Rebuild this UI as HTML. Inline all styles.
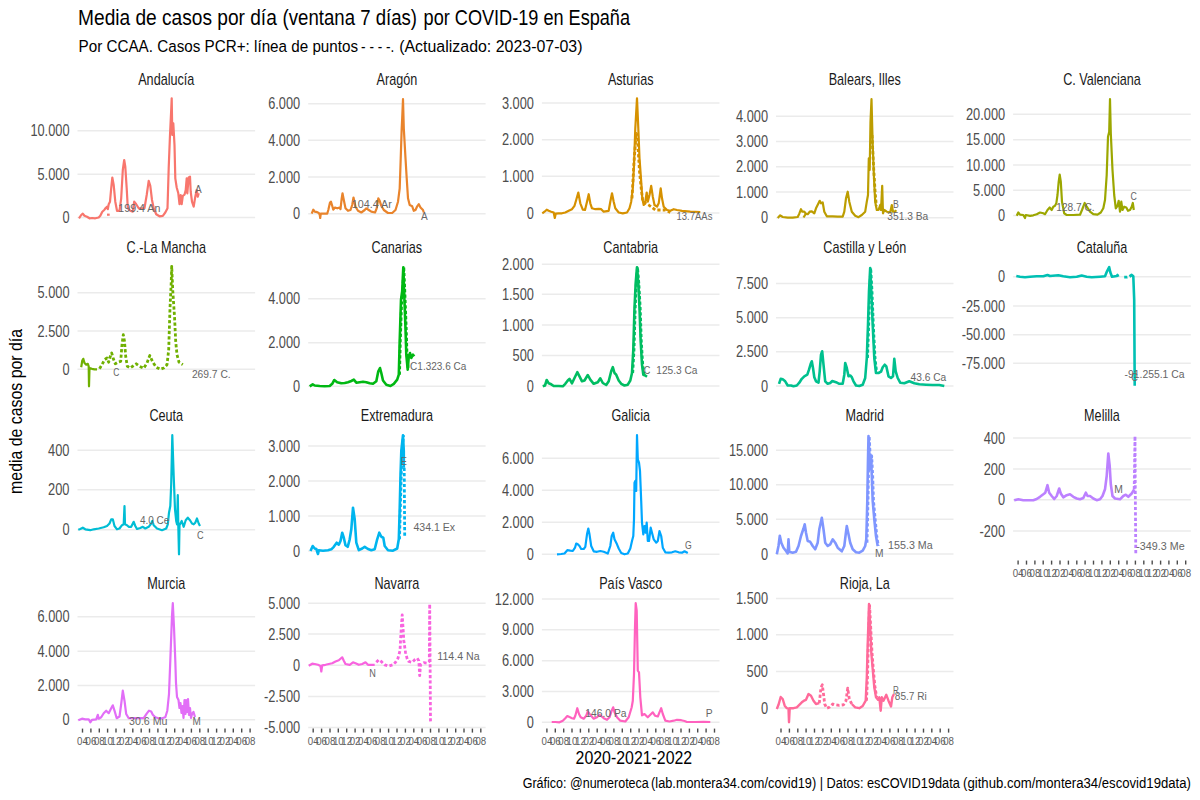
<!DOCTYPE html><html><head><meta charset="utf-8"><style>html,body{margin:0;padding:0;background:#fff;}svg{display:block;font-family:"Liberation Sans",sans-serif;}</style></head><body>
<svg width="1200" height="800" viewBox="0 0 1200 800">
<rect width="1200" height="800" fill="#fff"/>
<text x="78.1" y="24.7" font-size="22.8" fill="#000" textLength="198.7" lengthAdjust="spacingAndGlyphs">Media de casos por día</text>
<text x="282.6" y="24.7" font-size="22.8" fill="#000" textLength="134.4" lengthAdjust="spacingAndGlyphs">(ventana 7 días)</text>
<text x="423.6" y="24.7" font-size="22.8" fill="#000" textLength="206.4" lengthAdjust="spacingAndGlyphs">por COVID-19 en España</text>
<text x="78.6" y="52.3" font-size="17.2" fill="#000" textLength="279.5" lengthAdjust="spacingAndGlyphs">Por CCAA. Casos PCR+: línea de puntos</text>
<text x="361.1" y="52.3" font-size="17.2" fill="#000" textLength="33.2" lengthAdjust="spacingAndGlyphs">- - - -.</text>
<text x="399.2" y="52.3" font-size="17.2" fill="#000" textLength="183.3" lengthAdjust="spacingAndGlyphs">(Actualizado: 2023-07-03)</text>
<text x="0.0" y="0.0" font-size="19.2" fill="#000" text-anchor="middle" textLength="165.0" lengthAdjust="spacingAndGlyphs" transform="translate(22.2,411.4) rotate(-90)">media de casos por día</text>
<text x="633.9" y="764.2" font-size="18.4" fill="#000" text-anchor="middle" textLength="116.6" lengthAdjust="spacingAndGlyphs">2020-2021-2022</text>
<text x="522.7" y="788.2" font-size="15.2" fill="#000" textLength="126.1" lengthAdjust="spacingAndGlyphs">Gráfico: @numeroteca</text>
<text x="651.1" y="788.2" font-size="15.2" fill="#000" textLength="308.7" lengthAdjust="spacingAndGlyphs">(lab.montera34.com/covid19) | Datos: esCOVID19data</text>
<text x="963.1" y="788.2" font-size="15.2" fill="#000" textLength="227.8" lengthAdjust="spacingAndGlyphs">(github.com/montera34/escovid19data)</text>
<g stroke="#EBEBEB" stroke-width="1.5"><line x1="77.5" y1="130.75" x2="255.1" y2="130.75"/><line x1="77.5" y1="174.2" x2="255.1" y2="174.2"/><line x1="77.5" y1="217.6" x2="255.1" y2="217.6"/><line x1="308.2" y1="103.7" x2="485.6" y2="103.7"/><line x1="308.2" y1="140.3" x2="485.6" y2="140.3"/><line x1="308.2" y1="177.0" x2="485.6" y2="177.0"/><line x1="308.2" y1="213.8" x2="485.6" y2="213.8"/><line x1="541.9" y1="103.0" x2="719.5" y2="103.0"/><line x1="541.9" y1="139.7" x2="719.5" y2="139.7"/><line x1="541.9" y1="176.3" x2="719.5" y2="176.3"/><line x1="541.9" y1="213.0" x2="719.5" y2="213.0"/><line x1="776.0" y1="116.2" x2="953.5" y2="116.2"/><line x1="776.0" y1="141.5" x2="953.5" y2="141.5"/><line x1="776.0" y1="166.8" x2="953.5" y2="166.8"/><line x1="776.0" y1="192.0" x2="953.5" y2="192.0"/><line x1="776.0" y1="217.7" x2="953.5" y2="217.7"/><line x1="1013.1" y1="114.2" x2="1190.8" y2="114.2"/><line x1="1013.1" y1="139.7" x2="1190.8" y2="139.7"/><line x1="1013.1" y1="165.0" x2="1190.8" y2="165.0"/><line x1="1013.1" y1="190.3" x2="1190.8" y2="190.3"/><line x1="1013.1" y1="215.5" x2="1190.8" y2="215.5"/><line x1="77.5" y1="292.7" x2="255.1" y2="292.7"/><line x1="77.5" y1="331.0" x2="255.1" y2="331.0"/><line x1="77.5" y1="369.3" x2="255.1" y2="369.3"/><line x1="308.2" y1="298.8" x2="485.6" y2="298.8"/><line x1="308.2" y1="342.7" x2="485.6" y2="342.7"/><line x1="308.2" y1="386.3" x2="485.6" y2="386.3"/><line x1="541.9" y1="264.2" x2="719.5" y2="264.2"/><line x1="541.9" y1="294.3" x2="719.5" y2="294.3"/><line x1="541.9" y1="325.0" x2="719.5" y2="325.0"/><line x1="541.9" y1="355.5" x2="719.5" y2="355.5"/><line x1="541.9" y1="386.0" x2="719.5" y2="386.0"/><line x1="776.0" y1="283.5" x2="953.5" y2="283.5"/><line x1="776.0" y1="317.7" x2="953.5" y2="317.7"/><line x1="776.0" y1="351.8" x2="953.5" y2="351.8"/><line x1="776.0" y1="386.0" x2="953.5" y2="386.0"/><line x1="1013.1" y1="276.8" x2="1190.8" y2="276.8"/><line x1="1013.1" y1="306.0" x2="1190.8" y2="306.0"/><line x1="1013.1" y1="334.7" x2="1190.8" y2="334.7"/><line x1="1013.1" y1="363.3" x2="1190.8" y2="363.3"/><line x1="77.5" y1="450.2" x2="255.1" y2="450.2"/><line x1="77.5" y1="489.8" x2="255.1" y2="489.8"/><line x1="77.5" y1="529.7" x2="255.1" y2="529.7"/><line x1="308.2" y1="446.0" x2="485.6" y2="446.0"/><line x1="308.2" y1="481.0" x2="485.6" y2="481.0"/><line x1="308.2" y1="516.0" x2="485.6" y2="516.0"/><line x1="308.2" y1="551.0" x2="485.6" y2="551.0"/><line x1="541.9" y1="458.2" x2="719.5" y2="458.2"/><line x1="541.9" y1="490.2" x2="719.5" y2="490.2"/><line x1="541.9" y1="522.3" x2="719.5" y2="522.3"/><line x1="541.9" y1="554.3" x2="719.5" y2="554.3"/><line x1="776.0" y1="450.2" x2="953.5" y2="450.2"/><line x1="776.0" y1="484.7" x2="953.5" y2="484.7"/><line x1="776.0" y1="519.3" x2="953.5" y2="519.3"/><line x1="776.0" y1="554.0" x2="953.5" y2="554.0"/><line x1="1013.1" y1="438.0" x2="1190.8" y2="438.0"/><line x1="1013.1" y1="469.0" x2="1190.8" y2="469.0"/><line x1="1013.1" y1="499.8" x2="1190.8" y2="499.8"/><line x1="1013.1" y1="531.0" x2="1190.8" y2="531.0"/><line stroke="#4D4D4D" stroke-width="1.4" x1="1018.1" y1="560.6" x2="1018.1" y2="564.6"/><line stroke="#4D4D4D" stroke-width="1.4" x1="1026.5" y1="560.6" x2="1026.5" y2="564.6"/><line stroke="#4D4D4D" stroke-width="1.4" x1="1034.9" y1="560.6" x2="1034.9" y2="564.6"/><line stroke="#4D4D4D" stroke-width="1.4" x1="1043.2" y1="560.6" x2="1043.2" y2="564.6"/><line stroke="#4D4D4D" stroke-width="1.4" x1="1051.6" y1="560.6" x2="1051.6" y2="564.6"/><line stroke="#4D4D4D" stroke-width="1.4" x1="1060.0" y1="560.6" x2="1060.0" y2="564.6"/><line stroke="#4D4D4D" stroke-width="1.4" x1="1068.4" y1="560.6" x2="1068.4" y2="564.6"/><line stroke="#4D4D4D" stroke-width="1.4" x1="1076.8" y1="560.6" x2="1076.8" y2="564.6"/><line stroke="#4D4D4D" stroke-width="1.4" x1="1085.1" y1="560.6" x2="1085.1" y2="564.6"/><line stroke="#4D4D4D" stroke-width="1.4" x1="1093.5" y1="560.6" x2="1093.5" y2="564.6"/><line stroke="#4D4D4D" stroke-width="1.4" x1="1101.9" y1="560.6" x2="1101.9" y2="564.6"/><line stroke="#4D4D4D" stroke-width="1.4" x1="1110.3" y1="560.6" x2="1110.3" y2="564.6"/><line stroke="#4D4D4D" stroke-width="1.4" x1="1118.7" y1="560.6" x2="1118.7" y2="564.6"/><line stroke="#4D4D4D" stroke-width="1.4" x1="1127.0" y1="560.6" x2="1127.0" y2="564.6"/><line stroke="#4D4D4D" stroke-width="1.4" x1="1135.4" y1="560.6" x2="1135.4" y2="564.6"/><line stroke="#4D4D4D" stroke-width="1.4" x1="1143.8" y1="560.6" x2="1143.8" y2="564.6"/><line stroke="#4D4D4D" stroke-width="1.4" x1="1152.2" y1="560.6" x2="1152.2" y2="564.6"/><line stroke="#4D4D4D" stroke-width="1.4" x1="1160.6" y1="560.6" x2="1160.6" y2="564.6"/><line stroke="#4D4D4D" stroke-width="1.4" x1="1168.9" y1="560.6" x2="1168.9" y2="564.6"/><line stroke="#4D4D4D" stroke-width="1.4" x1="1177.3" y1="560.6" x2="1177.3" y2="564.6"/><line stroke="#4D4D4D" stroke-width="1.4" x1="1185.7" y1="560.6" x2="1185.7" y2="564.6"/><line x1="77.5" y1="616.8" x2="255.1" y2="616.8"/><line x1="77.5" y1="651.2" x2="255.1" y2="651.2"/><line x1="77.5" y1="685.5" x2="255.1" y2="685.5"/><line x1="77.5" y1="719.8" x2="255.1" y2="719.8"/><line stroke="#4D4D4D" stroke-width="1.4" x1="82.5" y1="728.6" x2="82.5" y2="732.6"/><line stroke="#4D4D4D" stroke-width="1.4" x1="90.9" y1="728.6" x2="90.9" y2="732.6"/><line stroke="#4D4D4D" stroke-width="1.4" x1="99.3" y1="728.6" x2="99.3" y2="732.6"/><line stroke="#4D4D4D" stroke-width="1.4" x1="107.6" y1="728.6" x2="107.6" y2="732.6"/><line stroke="#4D4D4D" stroke-width="1.4" x1="116.0" y1="728.6" x2="116.0" y2="732.6"/><line stroke="#4D4D4D" stroke-width="1.4" x1="124.4" y1="728.6" x2="124.4" y2="732.6"/><line stroke="#4D4D4D" stroke-width="1.4" x1="132.8" y1="728.6" x2="132.8" y2="732.6"/><line stroke="#4D4D4D" stroke-width="1.4" x1="141.2" y1="728.6" x2="141.2" y2="732.6"/><line stroke="#4D4D4D" stroke-width="1.4" x1="149.5" y1="728.6" x2="149.5" y2="732.6"/><line stroke="#4D4D4D" stroke-width="1.4" x1="157.9" y1="728.6" x2="157.9" y2="732.6"/><line stroke="#4D4D4D" stroke-width="1.4" x1="166.3" y1="728.6" x2="166.3" y2="732.6"/><line stroke="#4D4D4D" stroke-width="1.4" x1="174.7" y1="728.6" x2="174.7" y2="732.6"/><line stroke="#4D4D4D" stroke-width="1.4" x1="183.1" y1="728.6" x2="183.1" y2="732.6"/><line stroke="#4D4D4D" stroke-width="1.4" x1="191.4" y1="728.6" x2="191.4" y2="732.6"/><line stroke="#4D4D4D" stroke-width="1.4" x1="199.8" y1="728.6" x2="199.8" y2="732.6"/><line stroke="#4D4D4D" stroke-width="1.4" x1="208.2" y1="728.6" x2="208.2" y2="732.6"/><line stroke="#4D4D4D" stroke-width="1.4" x1="216.6" y1="728.6" x2="216.6" y2="732.6"/><line stroke="#4D4D4D" stroke-width="1.4" x1="225.0" y1="728.6" x2="225.0" y2="732.6"/><line stroke="#4D4D4D" stroke-width="1.4" x1="233.3" y1="728.6" x2="233.3" y2="732.6"/><line stroke="#4D4D4D" stroke-width="1.4" x1="241.7" y1="728.6" x2="241.7" y2="732.6"/><line stroke="#4D4D4D" stroke-width="1.4" x1="250.1" y1="728.6" x2="250.1" y2="732.6"/><line x1="308.2" y1="603.2" x2="485.6" y2="603.2"/><line x1="308.2" y1="634.0" x2="485.6" y2="634.0"/><line x1="308.2" y1="665.3" x2="485.6" y2="665.3"/><line x1="308.2" y1="696.5" x2="485.6" y2="696.5"/><line x1="308.2" y1="727.4" x2="485.6" y2="727.4"/><line stroke="#4D4D4D" stroke-width="1.4" x1="313.2" y1="728.6" x2="313.2" y2="732.6"/><line stroke="#4D4D4D" stroke-width="1.4" x1="321.6" y1="728.6" x2="321.6" y2="732.6"/><line stroke="#4D4D4D" stroke-width="1.4" x1="330.0" y1="728.6" x2="330.0" y2="732.6"/><line stroke="#4D4D4D" stroke-width="1.4" x1="338.3" y1="728.6" x2="338.3" y2="732.6"/><line stroke="#4D4D4D" stroke-width="1.4" x1="346.7" y1="728.6" x2="346.7" y2="732.6"/><line stroke="#4D4D4D" stroke-width="1.4" x1="355.1" y1="728.6" x2="355.1" y2="732.6"/><line stroke="#4D4D4D" stroke-width="1.4" x1="363.5" y1="728.6" x2="363.5" y2="732.6"/><line stroke="#4D4D4D" stroke-width="1.4" x1="371.9" y1="728.6" x2="371.9" y2="732.6"/><line stroke="#4D4D4D" stroke-width="1.4" x1="380.2" y1="728.6" x2="380.2" y2="732.6"/><line stroke="#4D4D4D" stroke-width="1.4" x1="388.6" y1="728.6" x2="388.6" y2="732.6"/><line stroke="#4D4D4D" stroke-width="1.4" x1="397.0" y1="728.6" x2="397.0" y2="732.6"/><line stroke="#4D4D4D" stroke-width="1.4" x1="405.4" y1="728.6" x2="405.4" y2="732.6"/><line stroke="#4D4D4D" stroke-width="1.4" x1="413.8" y1="728.6" x2="413.8" y2="732.6"/><line stroke="#4D4D4D" stroke-width="1.4" x1="422.1" y1="728.6" x2="422.1" y2="732.6"/><line stroke="#4D4D4D" stroke-width="1.4" x1="430.5" y1="728.6" x2="430.5" y2="732.6"/><line stroke="#4D4D4D" stroke-width="1.4" x1="438.9" y1="728.6" x2="438.9" y2="732.6"/><line stroke="#4D4D4D" stroke-width="1.4" x1="447.3" y1="728.6" x2="447.3" y2="732.6"/><line stroke="#4D4D4D" stroke-width="1.4" x1="455.7" y1="728.6" x2="455.7" y2="732.6"/><line stroke="#4D4D4D" stroke-width="1.4" x1="464.0" y1="728.6" x2="464.0" y2="732.6"/><line stroke="#4D4D4D" stroke-width="1.4" x1="472.4" y1="728.6" x2="472.4" y2="732.6"/><line stroke="#4D4D4D" stroke-width="1.4" x1="480.8" y1="728.6" x2="480.8" y2="732.6"/><line x1="541.9" y1="599.0" x2="719.5" y2="599.0"/><line x1="541.9" y1="629.8" x2="719.5" y2="629.8"/><line x1="541.9" y1="660.7" x2="719.5" y2="660.7"/><line x1="541.9" y1="691.5" x2="719.5" y2="691.5"/><line x1="541.9" y1="722.3" x2="719.5" y2="722.3"/><line stroke="#4D4D4D" stroke-width="1.4" x1="546.9" y1="728.6" x2="546.9" y2="732.6"/><line stroke="#4D4D4D" stroke-width="1.4" x1="555.3" y1="728.6" x2="555.3" y2="732.6"/><line stroke="#4D4D4D" stroke-width="1.4" x1="563.7" y1="728.6" x2="563.7" y2="732.6"/><line stroke="#4D4D4D" stroke-width="1.4" x1="572.0" y1="728.6" x2="572.0" y2="732.6"/><line stroke="#4D4D4D" stroke-width="1.4" x1="580.4" y1="728.6" x2="580.4" y2="732.6"/><line stroke="#4D4D4D" stroke-width="1.4" x1="588.8" y1="728.6" x2="588.8" y2="732.6"/><line stroke="#4D4D4D" stroke-width="1.4" x1="597.2" y1="728.6" x2="597.2" y2="732.6"/><line stroke="#4D4D4D" stroke-width="1.4" x1="605.6" y1="728.6" x2="605.6" y2="732.6"/><line stroke="#4D4D4D" stroke-width="1.4" x1="613.9" y1="728.6" x2="613.9" y2="732.6"/><line stroke="#4D4D4D" stroke-width="1.4" x1="622.3" y1="728.6" x2="622.3" y2="732.6"/><line stroke="#4D4D4D" stroke-width="1.4" x1="630.7" y1="728.6" x2="630.7" y2="732.6"/><line stroke="#4D4D4D" stroke-width="1.4" x1="639.1" y1="728.6" x2="639.1" y2="732.6"/><line stroke="#4D4D4D" stroke-width="1.4" x1="647.5" y1="728.6" x2="647.5" y2="732.6"/><line stroke="#4D4D4D" stroke-width="1.4" x1="655.8" y1="728.6" x2="655.8" y2="732.6"/><line stroke="#4D4D4D" stroke-width="1.4" x1="664.2" y1="728.6" x2="664.2" y2="732.6"/><line stroke="#4D4D4D" stroke-width="1.4" x1="672.6" y1="728.6" x2="672.6" y2="732.6"/><line stroke="#4D4D4D" stroke-width="1.4" x1="681.0" y1="728.6" x2="681.0" y2="732.6"/><line stroke="#4D4D4D" stroke-width="1.4" x1="689.4" y1="728.6" x2="689.4" y2="732.6"/><line stroke="#4D4D4D" stroke-width="1.4" x1="697.7" y1="728.6" x2="697.7" y2="732.6"/><line stroke="#4D4D4D" stroke-width="1.4" x1="706.1" y1="728.6" x2="706.1" y2="732.6"/><line stroke="#4D4D4D" stroke-width="1.4" x1="714.5" y1="728.6" x2="714.5" y2="732.6"/><line x1="776.0" y1="598.5" x2="953.5" y2="598.5"/><line x1="776.0" y1="634.8" x2="953.5" y2="634.8"/><line x1="776.0" y1="671.5" x2="953.5" y2="671.5"/><line x1="776.0" y1="708.0" x2="953.5" y2="708.0"/><line stroke="#4D4D4D" stroke-width="1.4" x1="781.0" y1="728.6" x2="781.0" y2="732.6"/><line stroke="#4D4D4D" stroke-width="1.4" x1="789.4" y1="728.6" x2="789.4" y2="732.6"/><line stroke="#4D4D4D" stroke-width="1.4" x1="797.8" y1="728.6" x2="797.8" y2="732.6"/><line stroke="#4D4D4D" stroke-width="1.4" x1="806.1" y1="728.6" x2="806.1" y2="732.6"/><line stroke="#4D4D4D" stroke-width="1.4" x1="814.5" y1="728.6" x2="814.5" y2="732.6"/><line stroke="#4D4D4D" stroke-width="1.4" x1="822.9" y1="728.6" x2="822.9" y2="732.6"/><line stroke="#4D4D4D" stroke-width="1.4" x1="831.3" y1="728.6" x2="831.3" y2="732.6"/><line stroke="#4D4D4D" stroke-width="1.4" x1="839.7" y1="728.6" x2="839.7" y2="732.6"/><line stroke="#4D4D4D" stroke-width="1.4" x1="848.0" y1="728.6" x2="848.0" y2="732.6"/><line stroke="#4D4D4D" stroke-width="1.4" x1="856.4" y1="728.6" x2="856.4" y2="732.6"/><line stroke="#4D4D4D" stroke-width="1.4" x1="864.8" y1="728.6" x2="864.8" y2="732.6"/><line stroke="#4D4D4D" stroke-width="1.4" x1="873.2" y1="728.6" x2="873.2" y2="732.6"/><line stroke="#4D4D4D" stroke-width="1.4" x1="881.6" y1="728.6" x2="881.6" y2="732.6"/><line stroke="#4D4D4D" stroke-width="1.4" x1="889.9" y1="728.6" x2="889.9" y2="732.6"/><line stroke="#4D4D4D" stroke-width="1.4" x1="898.3" y1="728.6" x2="898.3" y2="732.6"/><line stroke="#4D4D4D" stroke-width="1.4" x1="906.7" y1="728.6" x2="906.7" y2="732.6"/><line stroke="#4D4D4D" stroke-width="1.4" x1="915.1" y1="728.6" x2="915.1" y2="732.6"/><line stroke="#4D4D4D" stroke-width="1.4" x1="923.5" y1="728.6" x2="923.5" y2="732.6"/><line stroke="#4D4D4D" stroke-width="1.4" x1="931.8" y1="728.6" x2="931.8" y2="732.6"/><line stroke="#4D4D4D" stroke-width="1.4" x1="940.2" y1="728.6" x2="940.2" y2="732.6"/><line stroke="#4D4D4D" stroke-width="1.4" x1="948.6" y1="728.6" x2="948.6" y2="732.6"/></g>
<text x="69.5" y="136.2" font-size="16.0" fill="#4D4D4D" text-anchor="end" textLength="39.1" lengthAdjust="spacingAndGlyphs">10.000</text>
<text x="69.5" y="179.7" font-size="16.0" fill="#4D4D4D" text-anchor="end" textLength="32.0" lengthAdjust="spacingAndGlyphs">5.000</text>
<text x="69.5" y="223.1" font-size="16.0" fill="#4D4D4D" text-anchor="end" textLength="7.1" lengthAdjust="spacingAndGlyphs">0</text>
<text x="166.3" y="84.8" font-size="16.2" fill="#1A1A1A" text-anchor="middle" textLength="56.2" lengthAdjust="spacingAndGlyphs">Andalucía</text>
<text x="300.2" y="109.2" font-size="16.0" fill="#4D4D4D" text-anchor="end" textLength="32.0" lengthAdjust="spacingAndGlyphs">6.000</text>
<text x="300.2" y="145.8" font-size="16.0" fill="#4D4D4D" text-anchor="end" textLength="32.0" lengthAdjust="spacingAndGlyphs">4.000</text>
<text x="300.2" y="182.5" font-size="16.0" fill="#4D4D4D" text-anchor="end" textLength="32.0" lengthAdjust="spacingAndGlyphs">2.000</text>
<text x="300.2" y="219.3" font-size="16.0" fill="#4D4D4D" text-anchor="end" textLength="7.1" lengthAdjust="spacingAndGlyphs">0</text>
<text x="396.9" y="84.8" font-size="16.2" fill="#1A1A1A" text-anchor="middle" textLength="40.7" lengthAdjust="spacingAndGlyphs">Aragón</text>
<text x="533.9" y="108.5" font-size="16.0" fill="#4D4D4D" text-anchor="end" textLength="32.0" lengthAdjust="spacingAndGlyphs">3.000</text>
<text x="533.9" y="145.2" font-size="16.0" fill="#4D4D4D" text-anchor="end" textLength="32.0" lengthAdjust="spacingAndGlyphs">2.000</text>
<text x="533.9" y="181.8" font-size="16.0" fill="#4D4D4D" text-anchor="end" textLength="32.0" lengthAdjust="spacingAndGlyphs">1.000</text>
<text x="533.9" y="218.5" font-size="16.0" fill="#4D4D4D" text-anchor="end" textLength="7.1" lengthAdjust="spacingAndGlyphs">0</text>
<text x="630.7" y="84.8" font-size="16.2" fill="#1A1A1A" text-anchor="middle" textLength="45.6" lengthAdjust="spacingAndGlyphs">Asturias</text>
<text x="768.0" y="121.7" font-size="16.0" fill="#4D4D4D" text-anchor="end" textLength="32.0" lengthAdjust="spacingAndGlyphs">4.000</text>
<text x="768.0" y="147.0" font-size="16.0" fill="#4D4D4D" text-anchor="end" textLength="32.0" lengthAdjust="spacingAndGlyphs">3.000</text>
<text x="768.0" y="172.3" font-size="16.0" fill="#4D4D4D" text-anchor="end" textLength="32.0" lengthAdjust="spacingAndGlyphs">2.000</text>
<text x="768.0" y="197.5" font-size="16.0" fill="#4D4D4D" text-anchor="end" textLength="32.0" lengthAdjust="spacingAndGlyphs">1.000</text>
<text x="768.0" y="223.2" font-size="16.0" fill="#4D4D4D" text-anchor="end" textLength="7.1" lengthAdjust="spacingAndGlyphs">0</text>
<text x="864.8" y="84.8" font-size="16.2" fill="#1A1A1A" text-anchor="middle" textLength="72.3" lengthAdjust="spacingAndGlyphs">Balears, Illes</text>
<text x="1005.1" y="119.7" font-size="16.0" fill="#4D4D4D" text-anchor="end" textLength="39.1" lengthAdjust="spacingAndGlyphs">20.000</text>
<text x="1005.1" y="145.2" font-size="16.0" fill="#4D4D4D" text-anchor="end" textLength="39.1" lengthAdjust="spacingAndGlyphs">15.000</text>
<text x="1005.1" y="170.5" font-size="16.0" fill="#4D4D4D" text-anchor="end" textLength="39.1" lengthAdjust="spacingAndGlyphs">10.000</text>
<text x="1005.1" y="195.8" font-size="16.0" fill="#4D4D4D" text-anchor="end" textLength="32.0" lengthAdjust="spacingAndGlyphs">5.000</text>
<text x="1005.1" y="221.0" font-size="16.0" fill="#4D4D4D" text-anchor="end" textLength="7.1" lengthAdjust="spacingAndGlyphs">0</text>
<text x="1102.0" y="84.8" font-size="16.2" fill="#1A1A1A" text-anchor="middle" textLength="77.7" lengthAdjust="spacingAndGlyphs">C. Valenciana</text>
<text x="69.5" y="298.2" font-size="16.0" fill="#4D4D4D" text-anchor="end" textLength="32.0" lengthAdjust="spacingAndGlyphs">5.000</text>
<text x="69.5" y="336.5" font-size="16.0" fill="#4D4D4D" text-anchor="end" textLength="32.0" lengthAdjust="spacingAndGlyphs">2.500</text>
<text x="69.5" y="374.8" font-size="16.0" fill="#4D4D4D" text-anchor="end" textLength="7.1" lengthAdjust="spacingAndGlyphs">0</text>
<text x="166.3" y="252.6" font-size="16.2" fill="#1A1A1A" text-anchor="middle" textLength="79.4" lengthAdjust="spacingAndGlyphs">C.-La Mancha</text>
<text x="300.2" y="304.3" font-size="16.0" fill="#4D4D4D" text-anchor="end" textLength="32.0" lengthAdjust="spacingAndGlyphs">4.000</text>
<text x="300.2" y="348.2" font-size="16.0" fill="#4D4D4D" text-anchor="end" textLength="32.0" lengthAdjust="spacingAndGlyphs">2.000</text>
<text x="300.2" y="391.8" font-size="16.0" fill="#4D4D4D" text-anchor="end" textLength="7.1" lengthAdjust="spacingAndGlyphs">0</text>
<text x="396.9" y="252.6" font-size="16.2" fill="#1A1A1A" text-anchor="middle" textLength="50.6" lengthAdjust="spacingAndGlyphs">Canarias</text>
<text x="533.9" y="269.7" font-size="16.0" fill="#4D4D4D" text-anchor="end" textLength="32.0" lengthAdjust="spacingAndGlyphs">2.000</text>
<text x="533.9" y="299.8" font-size="16.0" fill="#4D4D4D" text-anchor="end" textLength="32.0" lengthAdjust="spacingAndGlyphs">1.500</text>
<text x="533.9" y="330.5" font-size="16.0" fill="#4D4D4D" text-anchor="end" textLength="32.0" lengthAdjust="spacingAndGlyphs">1.000</text>
<text x="533.9" y="361.0" font-size="16.0" fill="#4D4D4D" text-anchor="end" textLength="21.4" lengthAdjust="spacingAndGlyphs">500</text>
<text x="533.9" y="391.5" font-size="16.0" fill="#4D4D4D" text-anchor="end" textLength="7.1" lengthAdjust="spacingAndGlyphs">0</text>
<text x="630.7" y="252.6" font-size="16.2" fill="#1A1A1A" text-anchor="middle" textLength="54.8" lengthAdjust="spacingAndGlyphs">Cantabria</text>
<text x="768.0" y="289.0" font-size="16.0" fill="#4D4D4D" text-anchor="end" textLength="32.0" lengthAdjust="spacingAndGlyphs">7.500</text>
<text x="768.0" y="323.2" font-size="16.0" fill="#4D4D4D" text-anchor="end" textLength="32.0" lengthAdjust="spacingAndGlyphs">5.000</text>
<text x="768.0" y="357.3" font-size="16.0" fill="#4D4D4D" text-anchor="end" textLength="32.0" lengthAdjust="spacingAndGlyphs">2.500</text>
<text x="768.0" y="391.5" font-size="16.0" fill="#4D4D4D" text-anchor="end" textLength="7.1" lengthAdjust="spacingAndGlyphs">0</text>
<text x="864.8" y="252.6" font-size="16.2" fill="#1A1A1A" text-anchor="middle" textLength="82.9" lengthAdjust="spacingAndGlyphs">Castilla y León</text>
<text x="1005.1" y="282.3" font-size="16.0" fill="#4D4D4D" text-anchor="end" textLength="7.1" lengthAdjust="spacingAndGlyphs">0</text>
<text x="1005.1" y="311.5" font-size="16.0" fill="#4D4D4D" text-anchor="end" textLength="43.4" lengthAdjust="spacingAndGlyphs">-25.000</text>
<text x="1005.1" y="340.2" font-size="16.0" fill="#4D4D4D" text-anchor="end" textLength="43.4" lengthAdjust="spacingAndGlyphs">-50.000</text>
<text x="1005.1" y="368.8" font-size="16.0" fill="#4D4D4D" text-anchor="end" textLength="43.4" lengthAdjust="spacingAndGlyphs">-75.000</text>
<text x="1102.0" y="252.6" font-size="16.2" fill="#1A1A1A" text-anchor="middle" textLength="50.6" lengthAdjust="spacingAndGlyphs">Cataluña</text>
<text x="69.5" y="455.7" font-size="16.0" fill="#4D4D4D" text-anchor="end" textLength="21.4" lengthAdjust="spacingAndGlyphs">400</text>
<text x="69.5" y="495.3" font-size="16.0" fill="#4D4D4D" text-anchor="end" textLength="21.4" lengthAdjust="spacingAndGlyphs">200</text>
<text x="69.5" y="535.2" font-size="16.0" fill="#4D4D4D" text-anchor="end" textLength="7.1" lengthAdjust="spacingAndGlyphs">0</text>
<text x="166.3" y="420.6" font-size="16.2" fill="#1A1A1A" text-anchor="middle" textLength="33.7" lengthAdjust="spacingAndGlyphs">Ceuta</text>
<text x="300.2" y="451.5" font-size="16.0" fill="#4D4D4D" text-anchor="end" textLength="32.0" lengthAdjust="spacingAndGlyphs">3.000</text>
<text x="300.2" y="486.5" font-size="16.0" fill="#4D4D4D" text-anchor="end" textLength="32.0" lengthAdjust="spacingAndGlyphs">2.000</text>
<text x="300.2" y="521.5" font-size="16.0" fill="#4D4D4D" text-anchor="end" textLength="32.0" lengthAdjust="spacingAndGlyphs">1.000</text>
<text x="300.2" y="556.5" font-size="16.0" fill="#4D4D4D" text-anchor="end" textLength="7.1" lengthAdjust="spacingAndGlyphs">0</text>
<text x="396.9" y="420.6" font-size="16.2" fill="#1A1A1A" text-anchor="middle" textLength="72.3" lengthAdjust="spacingAndGlyphs">Extremadura</text>
<text x="533.9" y="463.7" font-size="16.0" fill="#4D4D4D" text-anchor="end" textLength="32.0" lengthAdjust="spacingAndGlyphs">6.000</text>
<text x="533.9" y="495.7" font-size="16.0" fill="#4D4D4D" text-anchor="end" textLength="32.0" lengthAdjust="spacingAndGlyphs">4.000</text>
<text x="533.9" y="527.8" font-size="16.0" fill="#4D4D4D" text-anchor="end" textLength="32.0" lengthAdjust="spacingAndGlyphs">2.000</text>
<text x="533.9" y="559.8" font-size="16.0" fill="#4D4D4D" text-anchor="end" textLength="7.1" lengthAdjust="spacingAndGlyphs">0</text>
<text x="630.7" y="420.6" font-size="16.2" fill="#1A1A1A" text-anchor="middle" textLength="38.6" lengthAdjust="spacingAndGlyphs">Galicia</text>
<text x="768.0" y="455.7" font-size="16.0" fill="#4D4D4D" text-anchor="end" textLength="39.1" lengthAdjust="spacingAndGlyphs">15.000</text>
<text x="768.0" y="490.2" font-size="16.0" fill="#4D4D4D" text-anchor="end" textLength="39.1" lengthAdjust="spacingAndGlyphs">10.000</text>
<text x="768.0" y="524.8" font-size="16.0" fill="#4D4D4D" text-anchor="end" textLength="32.0" lengthAdjust="spacingAndGlyphs">5.000</text>
<text x="768.0" y="559.5" font-size="16.0" fill="#4D4D4D" text-anchor="end" textLength="7.1" lengthAdjust="spacingAndGlyphs">0</text>
<text x="864.8" y="420.6" font-size="16.2" fill="#1A1A1A" text-anchor="middle" textLength="38.6" lengthAdjust="spacingAndGlyphs">Madrid</text>
<text x="1005.1" y="443.5" font-size="16.0" fill="#4D4D4D" text-anchor="end" textLength="21.4" lengthAdjust="spacingAndGlyphs">400</text>
<text x="1005.1" y="474.5" font-size="16.0" fill="#4D4D4D" text-anchor="end" textLength="21.4" lengthAdjust="spacingAndGlyphs">200</text>
<text x="1005.1" y="505.3" font-size="16.0" fill="#4D4D4D" text-anchor="end" textLength="7.1" lengthAdjust="spacingAndGlyphs">0</text>
<text x="1005.1" y="536.5" font-size="16.0" fill="#4D4D4D" text-anchor="end" textLength="25.6" lengthAdjust="spacingAndGlyphs">-200</text>
<text x="1102.0" y="420.6" font-size="16.2" fill="#1A1A1A" text-anchor="middle" textLength="35.8" lengthAdjust="spacingAndGlyphs">Melilla</text>
<text x="1018.1" y="576.7" font-size="11.2" fill="#5E5E5E" text-anchor="middle" textLength="10.8" lengthAdjust="spacingAndGlyphs">04</text>
<text x="1026.5" y="576.7" font-size="11.2" fill="#5E5E5E" text-anchor="middle" textLength="10.8" lengthAdjust="spacingAndGlyphs">06</text>
<text x="1034.9" y="576.7" font-size="11.2" fill="#5E5E5E" text-anchor="middle" textLength="10.8" lengthAdjust="spacingAndGlyphs">08</text>
<text x="1043.2" y="576.7" font-size="11.2" fill="#5E5E5E" text-anchor="middle" textLength="10.8" lengthAdjust="spacingAndGlyphs">10</text>
<text x="1051.6" y="576.7" font-size="11.2" fill="#5E5E5E" text-anchor="middle" textLength="10.8" lengthAdjust="spacingAndGlyphs">12</text>
<text x="1060.0" y="576.7" font-size="11.2" fill="#5E5E5E" text-anchor="middle" textLength="10.8" lengthAdjust="spacingAndGlyphs">02</text>
<text x="1068.4" y="576.7" font-size="11.2" fill="#5E5E5E" text-anchor="middle" textLength="10.8" lengthAdjust="spacingAndGlyphs">04</text>
<text x="1076.8" y="576.7" font-size="11.2" fill="#5E5E5E" text-anchor="middle" textLength="10.8" lengthAdjust="spacingAndGlyphs">06</text>
<text x="1085.1" y="576.7" font-size="11.2" fill="#5E5E5E" text-anchor="middle" textLength="10.8" lengthAdjust="spacingAndGlyphs">08</text>
<text x="1093.5" y="576.7" font-size="11.2" fill="#5E5E5E" text-anchor="middle" textLength="10.8" lengthAdjust="spacingAndGlyphs">10</text>
<text x="1101.9" y="576.7" font-size="11.2" fill="#5E5E5E" text-anchor="middle" textLength="10.8" lengthAdjust="spacingAndGlyphs">12</text>
<text x="1110.3" y="576.7" font-size="11.2" fill="#5E5E5E" text-anchor="middle" textLength="10.8" lengthAdjust="spacingAndGlyphs">02</text>
<text x="1118.7" y="576.7" font-size="11.2" fill="#5E5E5E" text-anchor="middle" textLength="10.8" lengthAdjust="spacingAndGlyphs">04</text>
<text x="1127.0" y="576.7" font-size="11.2" fill="#5E5E5E" text-anchor="middle" textLength="10.8" lengthAdjust="spacingAndGlyphs">06</text>
<text x="1135.4" y="576.7" font-size="11.2" fill="#5E5E5E" text-anchor="middle" textLength="10.8" lengthAdjust="spacingAndGlyphs">08</text>
<text x="1143.8" y="576.7" font-size="11.2" fill="#5E5E5E" text-anchor="middle" textLength="10.8" lengthAdjust="spacingAndGlyphs">10</text>
<text x="1152.2" y="576.7" font-size="11.2" fill="#5E5E5E" text-anchor="middle" textLength="10.8" lengthAdjust="spacingAndGlyphs">12</text>
<text x="1160.6" y="576.7" font-size="11.2" fill="#5E5E5E" text-anchor="middle" textLength="10.8" lengthAdjust="spacingAndGlyphs">02</text>
<text x="1168.9" y="576.7" font-size="11.2" fill="#5E5E5E" text-anchor="middle" textLength="10.8" lengthAdjust="spacingAndGlyphs">04</text>
<text x="1177.3" y="576.7" font-size="11.2" fill="#5E5E5E" text-anchor="middle" textLength="10.8" lengthAdjust="spacingAndGlyphs">06</text>
<text x="1185.7" y="576.7" font-size="11.2" fill="#5E5E5E" text-anchor="middle" textLength="10.8" lengthAdjust="spacingAndGlyphs">08</text>
<text x="69.5" y="622.3" font-size="16.0" fill="#4D4D4D" text-anchor="end" textLength="32.0" lengthAdjust="spacingAndGlyphs">6.000</text>
<text x="69.5" y="656.7" font-size="16.0" fill="#4D4D4D" text-anchor="end" textLength="32.0" lengthAdjust="spacingAndGlyphs">4.000</text>
<text x="69.5" y="691.0" font-size="16.0" fill="#4D4D4D" text-anchor="end" textLength="32.0" lengthAdjust="spacingAndGlyphs">2.000</text>
<text x="69.5" y="725.3" font-size="16.0" fill="#4D4D4D" text-anchor="end" textLength="7.1" lengthAdjust="spacingAndGlyphs">0</text>
<text x="166.3" y="588.6" font-size="16.2" fill="#1A1A1A" text-anchor="middle" textLength="37.9" lengthAdjust="spacingAndGlyphs">Murcia</text>
<text x="82.5" y="744.7" font-size="11.2" fill="#5E5E5E" text-anchor="middle" textLength="10.8" lengthAdjust="spacingAndGlyphs">04</text>
<text x="90.9" y="744.7" font-size="11.2" fill="#5E5E5E" text-anchor="middle" textLength="10.8" lengthAdjust="spacingAndGlyphs">06</text>
<text x="99.3" y="744.7" font-size="11.2" fill="#5E5E5E" text-anchor="middle" textLength="10.8" lengthAdjust="spacingAndGlyphs">08</text>
<text x="107.6" y="744.7" font-size="11.2" fill="#5E5E5E" text-anchor="middle" textLength="10.8" lengthAdjust="spacingAndGlyphs">10</text>
<text x="116.0" y="744.7" font-size="11.2" fill="#5E5E5E" text-anchor="middle" textLength="10.8" lengthAdjust="spacingAndGlyphs">12</text>
<text x="124.4" y="744.7" font-size="11.2" fill="#5E5E5E" text-anchor="middle" textLength="10.8" lengthAdjust="spacingAndGlyphs">02</text>
<text x="132.8" y="744.7" font-size="11.2" fill="#5E5E5E" text-anchor="middle" textLength="10.8" lengthAdjust="spacingAndGlyphs">04</text>
<text x="141.2" y="744.7" font-size="11.2" fill="#5E5E5E" text-anchor="middle" textLength="10.8" lengthAdjust="spacingAndGlyphs">06</text>
<text x="149.5" y="744.7" font-size="11.2" fill="#5E5E5E" text-anchor="middle" textLength="10.8" lengthAdjust="spacingAndGlyphs">08</text>
<text x="157.9" y="744.7" font-size="11.2" fill="#5E5E5E" text-anchor="middle" textLength="10.8" lengthAdjust="spacingAndGlyphs">10</text>
<text x="166.3" y="744.7" font-size="11.2" fill="#5E5E5E" text-anchor="middle" textLength="10.8" lengthAdjust="spacingAndGlyphs">12</text>
<text x="174.7" y="744.7" font-size="11.2" fill="#5E5E5E" text-anchor="middle" textLength="10.8" lengthAdjust="spacingAndGlyphs">02</text>
<text x="183.1" y="744.7" font-size="11.2" fill="#5E5E5E" text-anchor="middle" textLength="10.8" lengthAdjust="spacingAndGlyphs">04</text>
<text x="191.4" y="744.7" font-size="11.2" fill="#5E5E5E" text-anchor="middle" textLength="10.8" lengthAdjust="spacingAndGlyphs">06</text>
<text x="199.8" y="744.7" font-size="11.2" fill="#5E5E5E" text-anchor="middle" textLength="10.8" lengthAdjust="spacingAndGlyphs">08</text>
<text x="208.2" y="744.7" font-size="11.2" fill="#5E5E5E" text-anchor="middle" textLength="10.8" lengthAdjust="spacingAndGlyphs">10</text>
<text x="216.6" y="744.7" font-size="11.2" fill="#5E5E5E" text-anchor="middle" textLength="10.8" lengthAdjust="spacingAndGlyphs">12</text>
<text x="225.0" y="744.7" font-size="11.2" fill="#5E5E5E" text-anchor="middle" textLength="10.8" lengthAdjust="spacingAndGlyphs">02</text>
<text x="233.3" y="744.7" font-size="11.2" fill="#5E5E5E" text-anchor="middle" textLength="10.8" lengthAdjust="spacingAndGlyphs">04</text>
<text x="241.7" y="744.7" font-size="11.2" fill="#5E5E5E" text-anchor="middle" textLength="10.8" lengthAdjust="spacingAndGlyphs">06</text>
<text x="250.1" y="744.7" font-size="11.2" fill="#5E5E5E" text-anchor="middle" textLength="10.8" lengthAdjust="spacingAndGlyphs">08</text>
<text x="300.2" y="608.7" font-size="16.0" fill="#4D4D4D" text-anchor="end" textLength="32.0" lengthAdjust="spacingAndGlyphs">5.000</text>
<text x="300.2" y="639.5" font-size="16.0" fill="#4D4D4D" text-anchor="end" textLength="32.0" lengthAdjust="spacingAndGlyphs">2.500</text>
<text x="300.2" y="670.8" font-size="16.0" fill="#4D4D4D" text-anchor="end" textLength="7.1" lengthAdjust="spacingAndGlyphs">0</text>
<text x="300.2" y="702.0" font-size="16.0" fill="#4D4D4D" text-anchor="end" textLength="36.3" lengthAdjust="spacingAndGlyphs">-2.500</text>
<text x="300.2" y="732.9" font-size="16.0" fill="#4D4D4D" text-anchor="end" textLength="36.3" lengthAdjust="spacingAndGlyphs">-5.000</text>
<text x="396.9" y="588.6" font-size="16.2" fill="#1A1A1A" text-anchor="middle" textLength="44.9" lengthAdjust="spacingAndGlyphs">Navarra</text>
<text x="313.2" y="744.7" font-size="11.2" fill="#5E5E5E" text-anchor="middle" textLength="10.8" lengthAdjust="spacingAndGlyphs">04</text>
<text x="321.6" y="744.7" font-size="11.2" fill="#5E5E5E" text-anchor="middle" textLength="10.8" lengthAdjust="spacingAndGlyphs">06</text>
<text x="330.0" y="744.7" font-size="11.2" fill="#5E5E5E" text-anchor="middle" textLength="10.8" lengthAdjust="spacingAndGlyphs">08</text>
<text x="338.3" y="744.7" font-size="11.2" fill="#5E5E5E" text-anchor="middle" textLength="10.8" lengthAdjust="spacingAndGlyphs">10</text>
<text x="346.7" y="744.7" font-size="11.2" fill="#5E5E5E" text-anchor="middle" textLength="10.8" lengthAdjust="spacingAndGlyphs">12</text>
<text x="355.1" y="744.7" font-size="11.2" fill="#5E5E5E" text-anchor="middle" textLength="10.8" lengthAdjust="spacingAndGlyphs">02</text>
<text x="363.5" y="744.7" font-size="11.2" fill="#5E5E5E" text-anchor="middle" textLength="10.8" lengthAdjust="spacingAndGlyphs">04</text>
<text x="371.9" y="744.7" font-size="11.2" fill="#5E5E5E" text-anchor="middle" textLength="10.8" lengthAdjust="spacingAndGlyphs">06</text>
<text x="380.2" y="744.7" font-size="11.2" fill="#5E5E5E" text-anchor="middle" textLength="10.8" lengthAdjust="spacingAndGlyphs">08</text>
<text x="388.6" y="744.7" font-size="11.2" fill="#5E5E5E" text-anchor="middle" textLength="10.8" lengthAdjust="spacingAndGlyphs">10</text>
<text x="397.0" y="744.7" font-size="11.2" fill="#5E5E5E" text-anchor="middle" textLength="10.8" lengthAdjust="spacingAndGlyphs">12</text>
<text x="405.4" y="744.7" font-size="11.2" fill="#5E5E5E" text-anchor="middle" textLength="10.8" lengthAdjust="spacingAndGlyphs">02</text>
<text x="413.8" y="744.7" font-size="11.2" fill="#5E5E5E" text-anchor="middle" textLength="10.8" lengthAdjust="spacingAndGlyphs">04</text>
<text x="422.1" y="744.7" font-size="11.2" fill="#5E5E5E" text-anchor="middle" textLength="10.8" lengthAdjust="spacingAndGlyphs">06</text>
<text x="430.5" y="744.7" font-size="11.2" fill="#5E5E5E" text-anchor="middle" textLength="10.8" lengthAdjust="spacingAndGlyphs">08</text>
<text x="438.9" y="744.7" font-size="11.2" fill="#5E5E5E" text-anchor="middle" textLength="10.8" lengthAdjust="spacingAndGlyphs">10</text>
<text x="447.3" y="744.7" font-size="11.2" fill="#5E5E5E" text-anchor="middle" textLength="10.8" lengthAdjust="spacingAndGlyphs">12</text>
<text x="455.7" y="744.7" font-size="11.2" fill="#5E5E5E" text-anchor="middle" textLength="10.8" lengthAdjust="spacingAndGlyphs">02</text>
<text x="464.0" y="744.7" font-size="11.2" fill="#5E5E5E" text-anchor="middle" textLength="10.8" lengthAdjust="spacingAndGlyphs">04</text>
<text x="472.4" y="744.7" font-size="11.2" fill="#5E5E5E" text-anchor="middle" textLength="10.8" lengthAdjust="spacingAndGlyphs">06</text>
<text x="480.8" y="744.7" font-size="11.2" fill="#5E5E5E" text-anchor="middle" textLength="10.8" lengthAdjust="spacingAndGlyphs">08</text>
<text x="533.9" y="604.5" font-size="16.0" fill="#4D4D4D" text-anchor="end" textLength="39.1" lengthAdjust="spacingAndGlyphs">12.000</text>
<text x="533.9" y="635.3" font-size="16.0" fill="#4D4D4D" text-anchor="end" textLength="32.0" lengthAdjust="spacingAndGlyphs">9.000</text>
<text x="533.9" y="666.2" font-size="16.0" fill="#4D4D4D" text-anchor="end" textLength="32.0" lengthAdjust="spacingAndGlyphs">6.000</text>
<text x="533.9" y="697.0" font-size="16.0" fill="#4D4D4D" text-anchor="end" textLength="32.0" lengthAdjust="spacingAndGlyphs">3.000</text>
<text x="533.9" y="727.8" font-size="16.0" fill="#4D4D4D" text-anchor="end" textLength="7.1" lengthAdjust="spacingAndGlyphs">0</text>
<text x="630.7" y="588.6" font-size="16.2" fill="#1A1A1A" text-anchor="middle" textLength="63.0" lengthAdjust="spacingAndGlyphs">País Vasco</text>
<text x="546.9" y="744.7" font-size="11.2" fill="#5E5E5E" text-anchor="middle" textLength="10.8" lengthAdjust="spacingAndGlyphs">04</text>
<text x="555.3" y="744.7" font-size="11.2" fill="#5E5E5E" text-anchor="middle" textLength="10.8" lengthAdjust="spacingAndGlyphs">06</text>
<text x="563.7" y="744.7" font-size="11.2" fill="#5E5E5E" text-anchor="middle" textLength="10.8" lengthAdjust="spacingAndGlyphs">08</text>
<text x="572.0" y="744.7" font-size="11.2" fill="#5E5E5E" text-anchor="middle" textLength="10.8" lengthAdjust="spacingAndGlyphs">10</text>
<text x="580.4" y="744.7" font-size="11.2" fill="#5E5E5E" text-anchor="middle" textLength="10.8" lengthAdjust="spacingAndGlyphs">12</text>
<text x="588.8" y="744.7" font-size="11.2" fill="#5E5E5E" text-anchor="middle" textLength="10.8" lengthAdjust="spacingAndGlyphs">02</text>
<text x="597.2" y="744.7" font-size="11.2" fill="#5E5E5E" text-anchor="middle" textLength="10.8" lengthAdjust="spacingAndGlyphs">04</text>
<text x="605.6" y="744.7" font-size="11.2" fill="#5E5E5E" text-anchor="middle" textLength="10.8" lengthAdjust="spacingAndGlyphs">06</text>
<text x="613.9" y="744.7" font-size="11.2" fill="#5E5E5E" text-anchor="middle" textLength="10.8" lengthAdjust="spacingAndGlyphs">08</text>
<text x="622.3" y="744.7" font-size="11.2" fill="#5E5E5E" text-anchor="middle" textLength="10.8" lengthAdjust="spacingAndGlyphs">10</text>
<text x="630.7" y="744.7" font-size="11.2" fill="#5E5E5E" text-anchor="middle" textLength="10.8" lengthAdjust="spacingAndGlyphs">12</text>
<text x="639.1" y="744.7" font-size="11.2" fill="#5E5E5E" text-anchor="middle" textLength="10.8" lengthAdjust="spacingAndGlyphs">02</text>
<text x="647.5" y="744.7" font-size="11.2" fill="#5E5E5E" text-anchor="middle" textLength="10.8" lengthAdjust="spacingAndGlyphs">04</text>
<text x="655.8" y="744.7" font-size="11.2" fill="#5E5E5E" text-anchor="middle" textLength="10.8" lengthAdjust="spacingAndGlyphs">06</text>
<text x="664.2" y="744.7" font-size="11.2" fill="#5E5E5E" text-anchor="middle" textLength="10.8" lengthAdjust="spacingAndGlyphs">08</text>
<text x="672.6" y="744.7" font-size="11.2" fill="#5E5E5E" text-anchor="middle" textLength="10.8" lengthAdjust="spacingAndGlyphs">10</text>
<text x="681.0" y="744.7" font-size="11.2" fill="#5E5E5E" text-anchor="middle" textLength="10.8" lengthAdjust="spacingAndGlyphs">12</text>
<text x="689.4" y="744.7" font-size="11.2" fill="#5E5E5E" text-anchor="middle" textLength="10.8" lengthAdjust="spacingAndGlyphs">02</text>
<text x="697.7" y="744.7" font-size="11.2" fill="#5E5E5E" text-anchor="middle" textLength="10.8" lengthAdjust="spacingAndGlyphs">04</text>
<text x="706.1" y="744.7" font-size="11.2" fill="#5E5E5E" text-anchor="middle" textLength="10.8" lengthAdjust="spacingAndGlyphs">06</text>
<text x="714.5" y="744.7" font-size="11.2" fill="#5E5E5E" text-anchor="middle" textLength="10.8" lengthAdjust="spacingAndGlyphs">08</text>
<text x="768.0" y="604.0" font-size="16.0" fill="#4D4D4D" text-anchor="end" textLength="32.0" lengthAdjust="spacingAndGlyphs">1.500</text>
<text x="768.0" y="640.3" font-size="16.0" fill="#4D4D4D" text-anchor="end" textLength="32.0" lengthAdjust="spacingAndGlyphs">1.000</text>
<text x="768.0" y="677.0" font-size="16.0" fill="#4D4D4D" text-anchor="end" textLength="21.4" lengthAdjust="spacingAndGlyphs">500</text>
<text x="768.0" y="713.5" font-size="16.0" fill="#4D4D4D" text-anchor="end" textLength="7.1" lengthAdjust="spacingAndGlyphs">0</text>
<text x="864.8" y="588.6" font-size="16.2" fill="#1A1A1A" text-anchor="middle" textLength="49.9" lengthAdjust="spacingAndGlyphs">Rioja, La</text>
<text x="781.0" y="744.7" font-size="11.2" fill="#5E5E5E" text-anchor="middle" textLength="10.8" lengthAdjust="spacingAndGlyphs">04</text>
<text x="789.4" y="744.7" font-size="11.2" fill="#5E5E5E" text-anchor="middle" textLength="10.8" lengthAdjust="spacingAndGlyphs">06</text>
<text x="797.8" y="744.7" font-size="11.2" fill="#5E5E5E" text-anchor="middle" textLength="10.8" lengthAdjust="spacingAndGlyphs">08</text>
<text x="806.1" y="744.7" font-size="11.2" fill="#5E5E5E" text-anchor="middle" textLength="10.8" lengthAdjust="spacingAndGlyphs">10</text>
<text x="814.5" y="744.7" font-size="11.2" fill="#5E5E5E" text-anchor="middle" textLength="10.8" lengthAdjust="spacingAndGlyphs">12</text>
<text x="822.9" y="744.7" font-size="11.2" fill="#5E5E5E" text-anchor="middle" textLength="10.8" lengthAdjust="spacingAndGlyphs">02</text>
<text x="831.3" y="744.7" font-size="11.2" fill="#5E5E5E" text-anchor="middle" textLength="10.8" lengthAdjust="spacingAndGlyphs">04</text>
<text x="839.7" y="744.7" font-size="11.2" fill="#5E5E5E" text-anchor="middle" textLength="10.8" lengthAdjust="spacingAndGlyphs">06</text>
<text x="848.0" y="744.7" font-size="11.2" fill="#5E5E5E" text-anchor="middle" textLength="10.8" lengthAdjust="spacingAndGlyphs">08</text>
<text x="856.4" y="744.7" font-size="11.2" fill="#5E5E5E" text-anchor="middle" textLength="10.8" lengthAdjust="spacingAndGlyphs">10</text>
<text x="864.8" y="744.7" font-size="11.2" fill="#5E5E5E" text-anchor="middle" textLength="10.8" lengthAdjust="spacingAndGlyphs">12</text>
<text x="873.2" y="744.7" font-size="11.2" fill="#5E5E5E" text-anchor="middle" textLength="10.8" lengthAdjust="spacingAndGlyphs">02</text>
<text x="881.6" y="744.7" font-size="11.2" fill="#5E5E5E" text-anchor="middle" textLength="10.8" lengthAdjust="spacingAndGlyphs">04</text>
<text x="889.9" y="744.7" font-size="11.2" fill="#5E5E5E" text-anchor="middle" textLength="10.8" lengthAdjust="spacingAndGlyphs">06</text>
<text x="898.3" y="744.7" font-size="11.2" fill="#5E5E5E" text-anchor="middle" textLength="10.8" lengthAdjust="spacingAndGlyphs">08</text>
<text x="906.7" y="744.7" font-size="11.2" fill="#5E5E5E" text-anchor="middle" textLength="10.8" lengthAdjust="spacingAndGlyphs">10</text>
<text x="915.1" y="744.7" font-size="11.2" fill="#5E5E5E" text-anchor="middle" textLength="10.8" lengthAdjust="spacingAndGlyphs">12</text>
<text x="923.5" y="744.7" font-size="11.2" fill="#5E5E5E" text-anchor="middle" textLength="10.8" lengthAdjust="spacingAndGlyphs">02</text>
<text x="931.8" y="744.7" font-size="11.2" fill="#5E5E5E" text-anchor="middle" textLength="10.8" lengthAdjust="spacingAndGlyphs">04</text>
<text x="940.2" y="744.7" font-size="11.2" fill="#5E5E5E" text-anchor="middle" textLength="10.8" lengthAdjust="spacingAndGlyphs">06</text>
<text x="948.6" y="744.7" font-size="11.2" fill="#5E5E5E" text-anchor="middle" textLength="10.8" lengthAdjust="spacingAndGlyphs">08</text>
<g fill="none" stroke-width="2.2" stroke-linejoin="round" stroke-linecap="butt">
<polyline points="79.0,218.3 81.2,215.0 82.8,213.7 84.5,215.8 87.0,216.7 89.5,218.3 92.0,218.0 95.3,218.3 98.7,217.5 100.3,215.8 102.3,211.7 104.5,209.7 105.7,208.0 107.0,206.7 107.8,209.2 108.7,204.2 110.0,201.7 111.2,188.3 112.3,177.5 113.7,185.0 115.3,201.7 117.0,210.8 119.5,210.8 121.2,198.3 122.8,170.0 124.2,160.0 125.3,166.7 126.7,188.3 127.8,208.3 130.3,210.8 132.8,211.7 134.2,201.7 136.2,204.2 138.7,208.3 141.2,208.3 144.5,208.0 146.7,195.0 148.7,180.8 150.3,185.8 152.0,200.0 153.7,208.3 156.2,214.2 159.5,216.3 162.8,215.8 165.3,212.5 167.5,208.3 168.7,168.3 170.0,135.0 171.2,110.0 171.7,98.3 172.3,135.0 173.3,123.3 174.5,145.0 175.3,178.3 176.7,187.5 178.3,193.3 179.5,204.2 180.7,195.0 181.7,204.2 182.8,195.8 184.5,194.7 185.7,190.0 186.7,178.3 187.3,193.3 188.7,177.5 190.0,176.7 190.7,191.7 192.0,201.7 193.7,206.7 195.3,196.7 196.7,190.0 197.8,196.7 198.7,193.3" stroke="#F8766D" stroke-width="2.2"/>
<polyline points="107.0,214.7 109.7,214.7" stroke="#F8766D" stroke-width="2.2"/>
<polyline points="311.7,213.7 313.3,209.7 314.7,211.7 317.2,212.2 318.8,213.0 319.7,214.7 320.2,218.0 320.8,213.7 324.7,213.7 327.2,213.7 328.3,210.0 330.0,202.5 331.0,201.7 332.2,205.8 333.3,209.7 335.0,207.5 337.2,208.3 339.7,207.5 340.5,209.2 341.7,198.3 342.5,193.3 343.8,200.0 345.5,208.3 348.0,210.8 350.5,210.0 352.2,205.0 353.5,197.5 355.5,206.7 358.0,210.8 361.3,212.5 364.7,210.0 366.3,208.3 368.8,210.0 371.3,211.7 375.0,212.5 376.7,208.3 378.3,198.3 379.7,200.8 381.3,205.8 383.8,210.0 388.0,213.0 392.2,213.0 395.5,210.0 398.0,201.7 399.7,188.3 400.5,165.0 401.7,128.3 402.2,118.3 403.0,99.2 403.8,128.3 405.5,158.3 406.7,178.3 408.0,198.3 409.7,205.0 412.2,206.3 413.8,210.8 415.5,210.0 417.2,206.3 418.8,204.2 420.5,207.5 423.0,210.0 423.8,212.5" stroke="#E9842C" stroke-width="2.2"/>
<polyline points="542.3,213.3 544.5,211.7 546.7,209.7 548.7,210.8 551.2,211.7 553.7,212.5 554.8,218.0 555.7,213.7 558.7,213.3 562.0,213.3 565.3,212.5 568.7,210.8 572.0,209.2 574.5,205.8 576.2,200.0 578.3,192.5 580.3,203.3 582.8,209.7 585.0,210.0 587.0,201.7 588.7,194.2 590.3,203.3 592.0,208.3 595.3,209.2 598.7,208.8 601.2,209.2 603.7,211.7 608.7,210.8 610.3,201.7 612.0,193.3 613.7,201.7 615.3,208.3 618.7,212.5 622.8,213.3 627.0,212.5 629.5,208.3 631.2,201.7 632.8,188.3 634.0,165.0 635.3,128.3 637.0,98.3 638.3,128.3 639.5,158.3 641.2,181.7 642.3,198.3 643.7,205.0 645.3,201.7 646.7,192.5 647.8,201.7 649.5,195.0 651.2,185.8 652.8,196.7 654.5,205.0 657.0,206.7 658.7,203.3 660.7,188.3 662.0,198.3 663.7,206.7 667.0,210.0 670.3,210.8 673.7,209.2 677.0,210.0 682.0,210.8 690.3,211.7 700.3,212.0" stroke="#D69100" stroke-width="2.2"/>
<polyline points="632.0,198.3 634.0,161.7 636.2,133.3 637.3,135.0 639.5,171.7 641.2,188.3 642.8,201.7 648.7,205.0 655.3,210.0 665.3,210.0 670.3,212.5" stroke="#D69100" stroke-width="2.8" stroke-dasharray="3.2,2.2"/>
<polyline points="777.7,218.0 780.2,215.3 782.7,217.0 787.7,217.7 792.7,217.7 797.7,217.0 799.3,213.7 801.0,209.2 802.3,211.7 804.3,211.7 806.0,213.7 807.7,214.2 809.7,211.7 811.8,211.3 814.3,213.3 816.0,208.3 818.5,203.3 819.7,200.8 821.0,203.3 822.7,202.5 824.3,211.7 826.8,216.3 832.7,216.3 837.7,216.7 842.7,216.7 844.3,211.7 846.0,198.3 847.7,191.7 849.3,201.7 851.8,211.7 855.2,215.8 858.5,217.2 861.8,215.0 865.2,211.7 866.8,201.7 868.0,195.0 868.8,158.3 869.7,170.0 870.5,121.7 871.5,99.2 872.7,145.0 874.0,178.3 875.2,201.7 876.8,210.0 878.5,210.0 880.2,205.0 881.0,210.0 882.2,185.8 883.0,213.3 884.3,210.0 886.8,211.7 890.2,212.5 891.8,205.0 893.0,211.7 895.2,211.7 896.0,210.0" stroke="#BC9D00" stroke-width="2.2"/>
<polyline points="803.5,217.5 806.0,213.7" stroke="#BC9D00" stroke-width="2.2"/>
<polyline points="872.0,135.0 873.5,165.0 875.0,190.0 876.3,205.8" stroke="#BC9D00" stroke-width="2.8" stroke-dasharray="3.2,2.2"/>
<polyline points="1016.7,215.8 1018.3,212.5 1020.0,214.7 1023.3,215.0 1025.0,218.0 1025.8,215.0 1030.0,215.8 1033.3,215.3 1036.7,214.2 1040.0,212.5 1043.3,213.3 1045.0,214.2 1047.5,210.0 1049.7,207.5 1051.7,210.0 1053.3,206.7 1055.0,205.8 1056.3,203.3 1057.5,195.0 1058.7,181.7 1059.7,174.7 1060.8,181.7 1062.0,201.7 1064.2,213.3 1066.7,215.0 1073.3,215.0 1080.0,214.7 1082.0,210.0 1084.7,203.0 1086.7,206.7 1090.0,211.7 1093.3,214.2 1097.5,214.7 1100.8,212.5 1103.3,208.3 1105.0,200.0 1106.7,175.0 1108.0,136.7 1109.2,131.7 1110.0,99.2 1110.8,133.3 1112.5,170.0 1114.2,195.0 1115.8,208.3 1117.5,205.8 1118.7,200.8 1120.0,211.7 1121.3,201.7 1122.5,210.0 1124.2,206.7 1126.3,207.5 1128.0,210.8 1130.0,210.0 1131.7,206.7 1132.8,203.0 1133.8,210.0" stroke="#9CA700" stroke-width="2.2"/>
<polyline points="81.2,367.2 82.3,360.5 83.3,358.8 84.5,363.0 86.2,364.7 87.8,363.8 88.7,366.3 89.0,386.3 89.5,368.0 92.0,368.8 94.5,369.3 97.0,369.3" stroke="#6FB000" stroke-width="2.2"/>
<polyline points="99.5,368.8 102.0,364.7 104.5,359.7 107.0,358.0 108.7,362.2 110.0,357.2 111.7,353.0 113.3,358.8 115.3,363.8 117.8,362.2 120.7,361.3 122.0,344.7 123.3,334.7 124.5,341.3 125.7,356.3 127.3,366.3 130.3,368.0 133.7,365.5 136.2,363.8 139.5,366.3 143.7,368.3 147.0,363.0 149.8,355.5 152.8,362.2 156.2,367.2 160.3,369.3 163.7,368.0 167.0,364.7 168.7,349.7 170.0,308.0 171.2,283.0 171.7,266.3 172.8,291.3 174.5,316.3 175.7,341.3 177.0,354.7 179.0,362.2 182.8,364.7" stroke="#6FB000" stroke-width="2.8" stroke-dasharray="3.2,2.2"/>
<polyline points="399.5,374.7 400.3,341.3 401.7,299.7 402.7,291.3 403.8,267.2 405.0,296.3 406.2,328.0 407.0,354.7 408.2,369.7" stroke="#00B813" stroke-width="2.8" stroke-dasharray="3.2,2.2"/>
<polyline points="309.7,386.3 312.7,384.3 314.7,385.5 319.7,386.0 324.7,386.3 329.7,386.0 332.2,383.8 334.3,380.0 337.2,382.2 341.3,383.3 344.7,383.0 348.0,382.2 351.3,381.0 353.8,379.7 356.3,382.7 359.7,382.2 363.0,381.7 366.3,382.2 369.7,383.3 373.0,383.8 376.3,381.3 378.3,371.3 380.0,368.0 381.3,373.0 383.0,380.5 386.3,384.7 390.5,386.0 393.8,383.8 397.2,379.7 398.8,374.7 399.7,341.3 401.0,299.7 402.2,291.3 403.3,267.2 404.3,296.3 405.5,328.0 406.3,354.7 407.7,369.7 408.8,356.3 410.0,353.0 411.3,358.0 413.0,354.7 414.3,356.3" stroke="#00B813" stroke-width="2.6"/>
<polyline points="632.7,373.0 634.0,349.7 635.2,308.0 636.3,283.0 637.5,267.2 638.8,283.0 640.2,308.0 641.3,341.3 642.7,364.7 644.0,374.7" stroke="#00BD61" stroke-width="2.8" stroke-dasharray="3.2,2.2"/>
<polyline points="542.8,386.3 545.0,385.5 546.7,380.0 548.7,383.3 551.2,384.3 553.7,386.0 558.7,386.0 562.8,386.3 565.3,383.8 567.8,380.5 569.5,378.8 572.0,383.3 574.5,378.0 577.3,372.2 579.5,376.3 582.0,381.3 584.5,380.5 587.8,375.0 590.3,379.7 593.7,383.8 597.8,382.2 600.3,378.3 602.8,383.0 606.2,385.0 608.7,381.3 611.2,371.3 612.8,367.2 614.5,373.0 616.2,374.7 618.7,380.5 621.2,383.8 624.5,385.5 627.8,384.7 630.3,380.5 632.0,373.0 633.3,349.7 634.5,308.0 635.7,283.0 637.0,267.2 638.3,283.0 639.5,308.0 640.7,341.3 642.0,364.7 643.3,374.7 645.3,375.5 647.0,376.7" stroke="#00BD61" stroke-width="2.6"/>
<polyline points="867.5,358.0 868.7,324.7 869.7,291.3 870.7,268.0 872.0,291.3 873.3,324.7 875.0,358.0 876.7,373.0" stroke="#00C08E" stroke-width="2.8" stroke-dasharray="3.2,2.2"/>
<polyline points="779.0,383.8 780.7,378.8 782.7,379.3 785.2,381.3 787.7,385.5 791.0,385.5 793.5,386.3 796.8,385.5 799.3,382.7 801.8,378.8 804.3,376.3 807.3,374.7 809.0,369.7 810.7,363.8 811.8,361.3 813.0,368.0 814.3,377.2 816.0,381.3 818.5,382.7 819.7,371.3 821.0,354.7 822.2,351.3 823.5,364.7 825.2,381.3 827.7,383.8 830.2,383.0 832.3,381.0 836.0,382.2 839.3,383.8 842.7,383.8 844.3,374.7 845.2,363.0 846.8,368.0 848.5,376.3 850.2,375.5 851.8,377.2 853.5,381.3 856.0,385.5 859.3,386.0 862.7,384.7 865.2,378.0 866.8,358.0 868.0,324.7 869.0,291.3 870.2,268.0 871.3,291.3 872.7,324.7 874.3,358.0 876.0,373.0 878.5,373.0 881.0,371.7 882.7,367.2 884.7,364.7 886.3,366.3 888.5,376.3 891.0,378.0 893.0,376.3 894.3,358.8 895.7,371.3 897.7,378.0 900.2,382.7 904.3,383.3 909.3,381.3 914.3,383.3 919.3,384.3 926.0,384.7 932.7,385.0 939.3,385.0 944.3,386.0" stroke="#00C08E" stroke-width="2.6"/>
<polyline points="1016.3,276.0 1020.0,276.7 1025.0,277.2 1030.0,276.7 1036.7,276.3 1043.3,276.3 1047.5,275.0 1050.0,276.0 1058.3,275.3 1063.3,276.3 1070.0,277.2 1076.7,276.7 1081.7,275.5 1086.7,276.7 1091.7,277.3 1100.0,276.7 1105.0,276.3 1107.0,271.3 1109.2,267.2 1110.3,272.2 1112.0,276.7 1116.7,276.0 1117.5,275.0 1118.3,276.7" stroke="#00C0B4" stroke-width="2.6"/>
<polyline points="1124.2,277.2 1126.7,277.2 1129.2,276.7 1131.7,275.0 1133.3,276.3" stroke="#00C0B4" stroke-width="2.8" stroke-dasharray="3.2,2.2"/>
<polyline points="1131.7,275.0 1133.3,276.3 1134.2,299.7 1134.7,385.7" stroke="#00C0B4" stroke-width="2.6"/>
<polyline points="78.3,529.7 80.3,529.0 82.8,527.7 85.3,529.3 90.3,530.2 93.7,529.3 98.7,528.5 103.7,527.3 107.0,526.0 109.5,523.5 111.2,519.3 112.8,519.3 114.5,526.0 117.0,529.3 119.5,528.5 122.0,525.2 123.7,524.3 124.5,506.0 125.0,524.3 127.0,525.2 128.7,526.8 131.2,526.8 133.7,521.8 135.3,526.0 137.0,529.0 140.3,528.0 142.8,526.8 145.3,528.5 148.7,526.8 151.2,523.5 152.3,521.0 153.7,525.2 157.0,528.5 162.0,530.2 166.2,528.5 167.8,524.3 169.0,512.7 170.3,506.0 171.2,484.3 172.3,435.2 173.7,476.0 175.0,509.3 176.2,521.0 177.0,524.3 177.8,495.2 178.3,526.0 179.0,554.3 179.5,525.2 181.7,521.0 183.7,526.8 185.7,520.2 187.8,517.7 190.0,520.2 192.0,523.5 193.7,524.3 195.3,522.7 197.0,518.5 198.7,523.5 200.0,526.0" stroke="#00BDD4" stroke-width="2.2"/>
<polyline points="399.5,539.3 400.3,509.3 401.2,476.0 402.0,451.0 403.5,435.2" stroke="#00B5EE" stroke-width="2.8" stroke-dasharray="3.2,2.2"/>
<polyline points="310.5,551.0 312.7,546.0 314.7,548.5 316.3,549.0 318.0,554.0 318.8,550.2 323.0,550.7 328.0,550.2 331.3,549.3 333.8,546.8 336.7,542.7 338.8,544.7 340.5,541.0 342.2,532.7 343.8,537.7 345.5,545.2 347.7,546.8 349.7,539.3 351.3,529.3 353.0,507.7 354.7,519.3 356.3,542.7 358.8,550.2 362.2,548.5 364.7,546.8 368.0,549.0 371.3,550.2 374.7,549.3 377.2,539.3 379.3,532.7 381.3,536.8 383.3,537.7 384.7,546.0 388.0,550.2 393.0,550.7 397.2,548.5 398.8,539.3 399.7,509.3 400.5,476.0 401.3,451.0 403.0,435.2 403.8,451.0 403.8,467.7" stroke="#00B5EE" stroke-width="2.6"/>
<polyline points="404.2,467.7 404.7,536.0" stroke="#00B5EE" stroke-width="2.8" stroke-dasharray="3.2,2.2"/>
<polyline points="557.0,554.3 561.2,554.0 564.5,553.5 567.3,550.2 570.3,550.7 572.8,551.0 575.0,547.7 576.2,543.5 577.8,544.3 579.5,546.0 581.2,549.0 583.7,549.0 585.3,546.8 587.0,534.3 588.3,528.5 589.5,534.3 591.2,546.0 593.7,551.3 597.0,551.8 600.3,551.0 603.7,551.8 607.8,553.5 610.3,546.0 611.7,536.0 613.2,532.7 614.5,539.3 617.0,544.3 618.7,548.5 621.2,553.0 624.5,554.3 627.8,553.5 630.3,548.5 632.0,541.0 633.3,536.0 634.0,519.3 634.5,482.7 635.3,481.0 636.2,491.0 637.0,435.2 637.8,459.3 639.0,462.7 640.0,471.0 641.2,501.0 642.0,522.7 643.3,534.3 644.5,526.0 645.7,532.7 646.7,522.7 647.8,541.0 649.0,541.0 650.7,527.7 652.0,532.7 653.7,539.3 656.2,542.7 657.8,541.0 659.5,531.0 661.2,536.0 662.8,547.7 665.3,552.3 668.7,552.7 672.0,552.3 675.3,551.3 678.7,552.3 682.0,552.7 684.5,551.3 687.8,553.0" stroke="#00A7FF" stroke-width="2.2"/>
<polyline points="867.0,542.7 868.0,501.0 869.2,436.0 870.0,452.7 870.8,469.3 871.7,456.0 872.7,476.0 873.5,501.0 875.2,519.3 876.8,536.0 878.3,546.0" stroke="#7F96FF" stroke-width="2.8" stroke-dasharray="3.2,2.2"/>
<polyline points="776.8,554.3 778.5,546.0 779.8,535.7 781.3,542.7 783.5,547.7 786.0,551.0 787.7,553.5 788.5,539.3 789.3,551.8 792.7,552.7 796.0,551.8 798.5,546.0 801.0,536.0 803.5,528.5 804.7,524.3 806.0,532.7 807.7,541.0 810.2,541.8 812.7,546.0 815.2,549.3 817.7,542.7 819.3,529.3 821.8,517.7 823.5,529.3 825.2,542.7 827.7,546.0 830.2,544.3 832.7,539.3 835.2,542.7 837.7,547.7 841.8,551.3 844.3,546.0 845.7,534.3 846.8,526.0 848.5,534.3 850.2,542.7 852.7,549.3 856.0,552.3 859.3,552.7 862.7,550.7 865.2,546.0 866.3,539.3 867.3,501.0 868.0,459.3 868.5,436.0 869.3,452.7 870.2,469.3 871.0,456.0 871.8,476.0 872.7,501.0 874.3,519.3 876.0,536.0 877.7,546.0" stroke="#7F96FF" stroke-width="2.6"/>
<polyline points="1014.2,500.2 1018.3,499.3 1023.3,500.2 1030.0,500.2 1033.3,500.2 1036.7,499.0 1040.0,496.8 1043.3,494.3 1045.3,492.7 1047.5,485.2 1049.2,492.7 1051.7,496.0 1054.2,499.0 1056.7,496.0 1059.2,488.5 1060.8,493.5 1063.3,497.3 1066.7,495.2 1070.0,494.3 1073.3,496.8 1076.7,498.5 1080.0,499.3 1083.3,498.0 1085.8,492.7 1087.5,496.0 1090.0,496.0 1093.3,498.5 1096.7,500.2 1100.0,499.3 1102.5,496.0 1105.0,489.3 1106.7,476.0 1108.3,453.5 1109.7,466.0 1110.8,484.3 1112.5,496.0 1115.0,498.5 1120.0,499.3 1123.3,496.0 1125.8,494.7 1128.3,496.8 1131.7,493.5 1134.2,489.3" stroke="#BC81FF" stroke-width="2.6"/>
<polyline points="1134.2,489.3 1135.0,436.0 1135.3,492.7 1135.8,554.3" stroke="#BC81FF" stroke-width="2.8" stroke-dasharray="3.2,2.2"/>
<polyline points="78.3,720.3 82.0,718.7 85.3,719.3 88.7,719.3 90.3,722.3 92.0,719.8 96.2,719.3 97.8,714.8 98.7,718.7 101.2,717.3 103.7,713.2 106.2,710.7 108.7,713.2 111.2,708.2 112.8,705.3 114.5,710.7 116.7,718.2 119.5,716.5 121.2,704.0 122.8,690.7 124.5,700.7 126.2,714.0 128.7,718.2 133.7,718.2 138.7,718.2 143.7,718.2 146.7,713.7 149.0,710.7 151.2,711.5 152.8,714.8 155.3,717.3 160.3,718.7 165.3,717.3 167.3,710.7 169.0,694.0 170.3,660.7 172.0,615.7 172.8,603.2 174.0,627.3 175.3,660.7 176.0,683.0 177.0,697.0 178.5,700.0 179.5,708.0 180.5,703.0 181.5,713.0 182.5,706.0 183.5,718.0 184.5,700.0 185.5,714.0 186.0,700.0 187.0,712.0 188.0,699.0 189.0,715.0 190.0,708.0 191.0,718.0 192.0,714.0 193.5,712.0 195.0,717.0" stroke="#E26EF7" stroke-width="2.2"/>
<polyline points="308.8,665.7 312.2,663.7 314.7,664.0 318.0,664.8 320.5,666.0 321.3,671.5 322.2,665.3 325.5,664.8 328.8,664.0 332.2,663.2 335.5,661.5 338.8,660.3 342.2,657.3 343.8,660.7 345.5,664.0 349.7,664.8 353.0,662.3 355.5,663.2 358.8,664.8 362.2,664.0 365.5,662.3 368.0,664.8 371.3,664.8 374.7,664.8" stroke="#F863DF" stroke-width="2.2"/>
<polyline points="376.3,662.3 378.8,659.8 381.3,661.5 384.7,664.8 388.8,666.0 393.0,664.8 395.5,662.3 398.0,658.2 400.0,650.7 401.0,632.3 402.2,614.8 403.0,627.3 403.8,640.7 405.5,652.3 407.2,659.0 408.8,661.5 412.2,662.3 414.7,659.8 417.2,658.2 418.8,660.7 419.7,675.7 420.5,664.8 423.8,662.7 427.2,663.2 429.3,661.5 429.7,604.0 430.5,722.3" stroke="#F863DF" stroke-width="2.8" stroke-dasharray="3.2,2.2"/>
<polyline points="551.7,722.0 555.3,722.0 559.5,722.3 562.8,720.7 565.3,718.2 567.3,716.0 569.5,717.0 572.0,718.2 574.0,718.7 575.3,715.7 577.3,708.2 579.0,714.0 580.7,717.3 583.7,718.7 586.2,715.7 587.8,711.5 590.3,714.8 593.7,718.7 597.0,717.3 599.5,714.8 601.7,716.5 603.7,718.2 607.0,719.8 609.5,717.3 611.7,710.7 613.2,707.3 614.5,712.3 617.0,717.3 620.3,720.7 625.3,721.5 628.7,717.3 631.7,707.3 632.8,700.7 634.0,674.0 635.0,627.3 635.7,603.2 636.7,610.7 637.8,670.7 639.0,672.3 640.3,697.3 642.0,715.3 644.5,714.0 646.2,715.7 647.8,717.3 650.3,714.8 652.8,712.3 655.0,715.7 657.8,716.5 661.2,708.2 662.8,714.0 665.3,720.7 669.5,721.5 673.7,720.7 677.0,719.8 681.2,720.2 684.5,721.0 687.0,722.0 695.3,722.0 703.7,721.8 710.3,722.0" stroke="#FF62BF" stroke-width="2.2"/>
<polyline points="866.5,700.7 867.5,677.3 868.3,644.0 869.5,604.0 870.7,627.3 872.0,652.3 873.3,669.0 875.0,687.3 876.7,697.3" stroke="#FF6A9A" stroke-width="2.8" stroke-dasharray="3.2,2.2"/>
<polyline points="776.8,709.0 778.5,704.8 780.7,697.0 782.7,699.0 784.7,705.7 786.8,708.2 788.5,708.7 789.0,722.3 789.7,708.2 793.5,708.2 796.8,707.3 799.3,704.8 801.8,702.3 804.0,700.7 806.0,699.8 808.5,694.0 811.0,695.7 813.5,700.7 816.0,704.0 819.3,703.2" stroke="#FF6A9A" stroke-width="2.4"/>
<polyline points="819.3,703.2 821.0,687.3 822.3,684.8 823.5,694.0 824.7,704.0 826.8,708.2 829.3,707.3 832.7,704.0 836.0,704.8 839.3,705.3 843.5,704.8 846.0,700.7 847.7,688.2 849.3,699.0 851.8,704.0" stroke="#FF6A9A" stroke-width="2.8" stroke-dasharray="3.2,2.2"/>
<polyline points="851.8,704.0 855.2,707.3 859.3,708.2 862.7,706.0 865.7,700.7 866.8,677.3 867.7,644.0 869.0,604.0 870.2,627.3 871.3,652.3 872.7,669.0 874.3,687.3 876.0,697.3 878.0,699.8 879.3,697.3 880.7,710.7 881.8,697.3 883.5,700.7 886.3,694.8 888.5,700.7 891.0,706.5 892.3,697.3 894.0,694.0" stroke="#FF6A9A" stroke-width="2.4"/>
</g>
<text x="118.3" y="211.7" font-size="10.6" fill="#666666" textLength="42.1" lengthAdjust="spacingAndGlyphs">199.4 An</text>
<text x="194.9" y="192.5" font-size="10.6" fill="#666666" textLength="6.7" lengthAdjust="spacingAndGlyphs">A</text>
<text x="351.8" y="208.3" font-size="10.6" fill="#666666" textLength="40.0" lengthAdjust="spacingAndGlyphs">104.4 Ar</text>
<text x="420.9" y="219.7" font-size="10.6" fill="#666666" textLength="6.7" lengthAdjust="spacingAndGlyphs">A</text>
<text x="676.6" y="219.7" font-size="10.6" fill="#666666" textLength="35.8" lengthAdjust="spacingAndGlyphs">13.7AAs</text>
<text x="893.1" y="207.5" font-size="10.6" fill="#666666" textLength="5.8" lengthAdjust="spacingAndGlyphs">B</text>
<text x="887.3" y="219.7" font-size="10.6" fill="#666666" textLength="41.0" lengthAdjust="spacingAndGlyphs">351.3 Ba</text>
<text x="1056.3" y="210.8" font-size="10.6" fill="#666666" textLength="38.3" lengthAdjust="spacingAndGlyphs">128.7 C.</text>
<text x="1130.4" y="200.3" font-size="10.6" fill="#666666" textLength="6.3" lengthAdjust="spacingAndGlyphs">C</text>
<text x="113.3" y="375.5" font-size="10.6" fill="#666666" textLength="6.1" lengthAdjust="spacingAndGlyphs">C</text>
<text x="191.9" y="378.0" font-size="10.6" fill="#666666" textLength="38.8" lengthAdjust="spacingAndGlyphs">269.7 C.</text>
<text x="410.1" y="369.7" font-size="10.6" fill="#666666" textLength="56.2" lengthAdjust="spacingAndGlyphs">C1.323.6 Ca</text>
<text x="643.8" y="373.8" font-size="10.6" fill="#666666" textLength="6.6" lengthAdjust="spacingAndGlyphs">C</text>
<text x="656.3" y="373.8" font-size="10.6" fill="#666666" textLength="41.1" lengthAdjust="spacingAndGlyphs">125.3 Ca</text>
<text x="910.6" y="380.5" font-size="10.6" fill="#666666" textLength="35.7" lengthAdjust="spacingAndGlyphs">43.6 Ca</text>
<text x="1124.6" y="377.7" font-size="10.6" fill="#666666" textLength="59.9" lengthAdjust="spacingAndGlyphs">-91.255.1 Ca</text>
<text x="1131.3" y="381.3" font-size="10.6" fill="#666666" textLength="6.6" lengthAdjust="spacingAndGlyphs">C</text>
<text x="139.9" y="523.5" font-size="10.6" fill="#666666" textLength="29.5" lengthAdjust="spacingAndGlyphs">4.0 Ce</text>
<text x="197.1" y="538.5" font-size="10.6" fill="#666666" textLength="6.6" lengthAdjust="spacingAndGlyphs">C</text>
<text x="400.9" y="464.7" font-size="10.6" fill="#666666" textLength="5.8" lengthAdjust="spacingAndGlyphs">E</text>
<text x="413.4" y="530.7" font-size="10.6" fill="#666666" textLength="41.7" lengthAdjust="spacingAndGlyphs">434.1 Ex</text>
<text x="684.9" y="548.5" font-size="10.6" fill="#666666" textLength="6.7" lengthAdjust="spacingAndGlyphs">G</text>
<text x="875.1" y="556.5" font-size="10.6" fill="#666666" textLength="8.5" lengthAdjust="spacingAndGlyphs">M</text>
<text x="888.1" y="549.0" font-size="10.6" fill="#666666" textLength="44.6" lengthAdjust="spacingAndGlyphs">155.3 Ma</text>
<text x="1114.3" y="492.7" font-size="10.6" fill="#666666" textLength="8.6" lengthAdjust="spacingAndGlyphs">M</text>
<text x="1136.3" y="549.7" font-size="10.6" fill="#666666" textLength="48.3" lengthAdjust="spacingAndGlyphs">-349.3 Me</text>
<text x="129.1" y="724.8" font-size="10.6" fill="#666666" textLength="38.3" lengthAdjust="spacingAndGlyphs">30.6 Mu</text>
<text x="192.4" y="724.8" font-size="10.6" fill="#666666" textLength="8.3" lengthAdjust="spacingAndGlyphs">M</text>
<text x="369.3" y="676.5" font-size="10.6" fill="#666666" textLength="6.6" lengthAdjust="spacingAndGlyphs">N</text>
<text x="437.3" y="659.8" font-size="10.6" fill="#666666" textLength="42.3" lengthAdjust="spacingAndGlyphs">114.4 Na</text>
<text x="585.3" y="717.0" font-size="10.6" fill="#666666" textLength="41.2" lengthAdjust="spacingAndGlyphs">146.0 Pa</text>
<text x="705.8" y="717.0" font-size="10.6" fill="#666666" textLength="6.9" lengthAdjust="spacingAndGlyphs">P</text>
<text x="893.1" y="694.0" font-size="10.6" fill="#666666" textLength="5.8" lengthAdjust="spacingAndGlyphs">R</text>
<text x="894.8" y="700.3" font-size="10.6" fill="#666666" textLength="31.9" lengthAdjust="spacingAndGlyphs">85.7 Ri</text>
</svg></body></html>
